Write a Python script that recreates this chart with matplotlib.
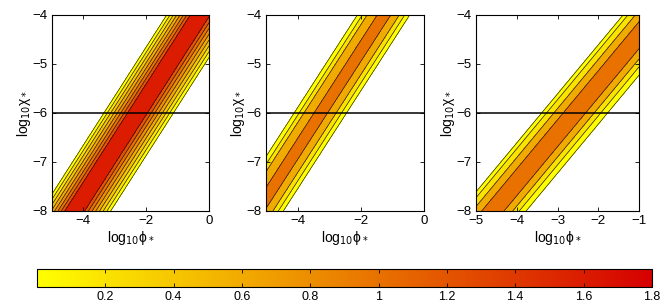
import numpy as np
import matplotlib
matplotlib.use('Agg')
import matplotlib.pyplot as plt
from matplotlib.colors import LinearSegmentedColormap, Normalize
from matplotlib.cm import ScalarMappable

plt.rcParams['font.family'] = ['Liberation Sans', 'DejaVu Sans']
plt.rcParams['mathtext.fontset'] = 'dejavusans'

# contour levels (lower edge of each filled band) and where each level line
# crosses the log10(chi) - log10(phi) direction
levels1 = [0, 0.2, 0.4, 0.6, 0.8, 1.0, 1.2, 1.6]
u1_upper = [-2.655, -2.762, -2.869, -2.976, -3.083, -3.19, -3.298, -3.405]
u1_lower = [-4.87, -4.751, -4.633, -4.514, -4.396, -4.277, -4.159, -4.04]

levels2 = [0, 0.2, 0.6, 1.0]
u2_upper = [-1.89, -2.05, -2.20, -2.52]
u2_lower = [-3.55, -3.39, -3.22, -2.95]

levels3 = [0, 0.2, 0.6, 1.0]
u3_upper = [-2.61, -2.73, -2.91, -3.14]
u3_lower = [-4.23, -4.06, -3.90, -3.69]

xlims = [(-5, 0), (-5, 0), (-5, -1)]
xticks = [[-4, -2, 0], [-4, -2, 0], [-5, -4, -3, -2, -1]]
yticks = [-8, -7, -6, -5, -4]
chi_line = -6
cbar_ticks = [0.2, 0.4, 0.6, 0.8, 1, 1.2, 1.4, 1.6, 1.8]

cmap = LinearSegmentedColormap.from_list('yr', [(1.0, 1.0, 0.0), (0.84, 0.0, 0.0)])
norm = Normalize(0, 1.8)

fig = plt.figure(figsize=(6.64, 3.04), dpi=100)
boxes = [[0.0783, 0.306, 0.2364, 0.645],
         [0.4006, 0.306, 0.2380, 0.645],
         [0.7169, 0.306, 0.2455, 0.645]]

panels = [(levels1, u1_upper, u1_lower),
          (levels2, u2_upper, u2_lower),
          (levels3, u3_upper, u3_lower)]

for i, (lev, up, lo) in enumerate(panels):
    ax = fig.add_axes(boxes[i])
    x = np.linspace(xlims[i][0], xlims[i][1], 600)
    y = np.linspace(-8, -4, 600)
    X, Y = np.meshgrid(x, y)
    U = Y - X
    top = lev[-1] + 0.1
    pu = [lo[0] - 0.3] + list(lo) + [(lo[-1] + up[-1]) / 2] + list(up[::-1]) + [up[0] + 0.3]
    pv = [-1] + list(lev) + [top] + list(lev[::-1]) + [-1]
    Z = np.interp(U, pu, pv)
    bounds = list(lev) + [lev[-1] + 0.2]
    cols = [cmap(norm(l)) for l in lev]
    ax.contourf(X, Y, Z, levels=bounds, colors=cols)
    ax.contour(X, Y, Z, levels=lev, colors='#111111', linewidths=0.45)
    ax.axhline(chi_line, color='k', lw=1.1)
    ax.set_xlim(*xlims[i])
    ax.set_ylim(-8, -4)
    ax.set_xticks(xticks[i])
    ax.set_yticks(yticks)
    ax.set_xticklabels([f'\u2212{abs(t)}' if t < 0 else str(t) for t in xticks[i]])
    ax.set_yticklabels([f'\u2212{abs(t)}' for t in yticks])
    ax.tick_params(direction='in', top=True, right=True, length=3, width=0.6,
                   labelsize=9.5, pad=3)
    for s in ax.spines.values():
        s.set_linewidth(0.8)
    ax.set_xlabel('log$_{10}$\u03d5$_*$', fontsize=10, labelpad=1)
    ax.set_ylabel('log$_{10}$\u03c7$_*$', fontsize=10, labelpad=0)

cax = fig.add_axes([0.0557, 0.056, 0.926, 0.059])
sm = ScalarMappable(norm=norm, cmap=cmap)
cb = fig.colorbar(sm, cax=cax, orientation='horizontal', ticks=cbar_ticks)
cb.ax.set_xticklabels(['0.2', '0.4', '0.6', '0.8', '1', '1.2', '1.4', '1.6', '1.8'])
cb.ax.tick_params(direction='in', top=True, length=3, width=0.6, labelsize=9, pad=3)
cb.outline.set_linewidth(0.8)

fig.savefig('out.png', dpi=100)
